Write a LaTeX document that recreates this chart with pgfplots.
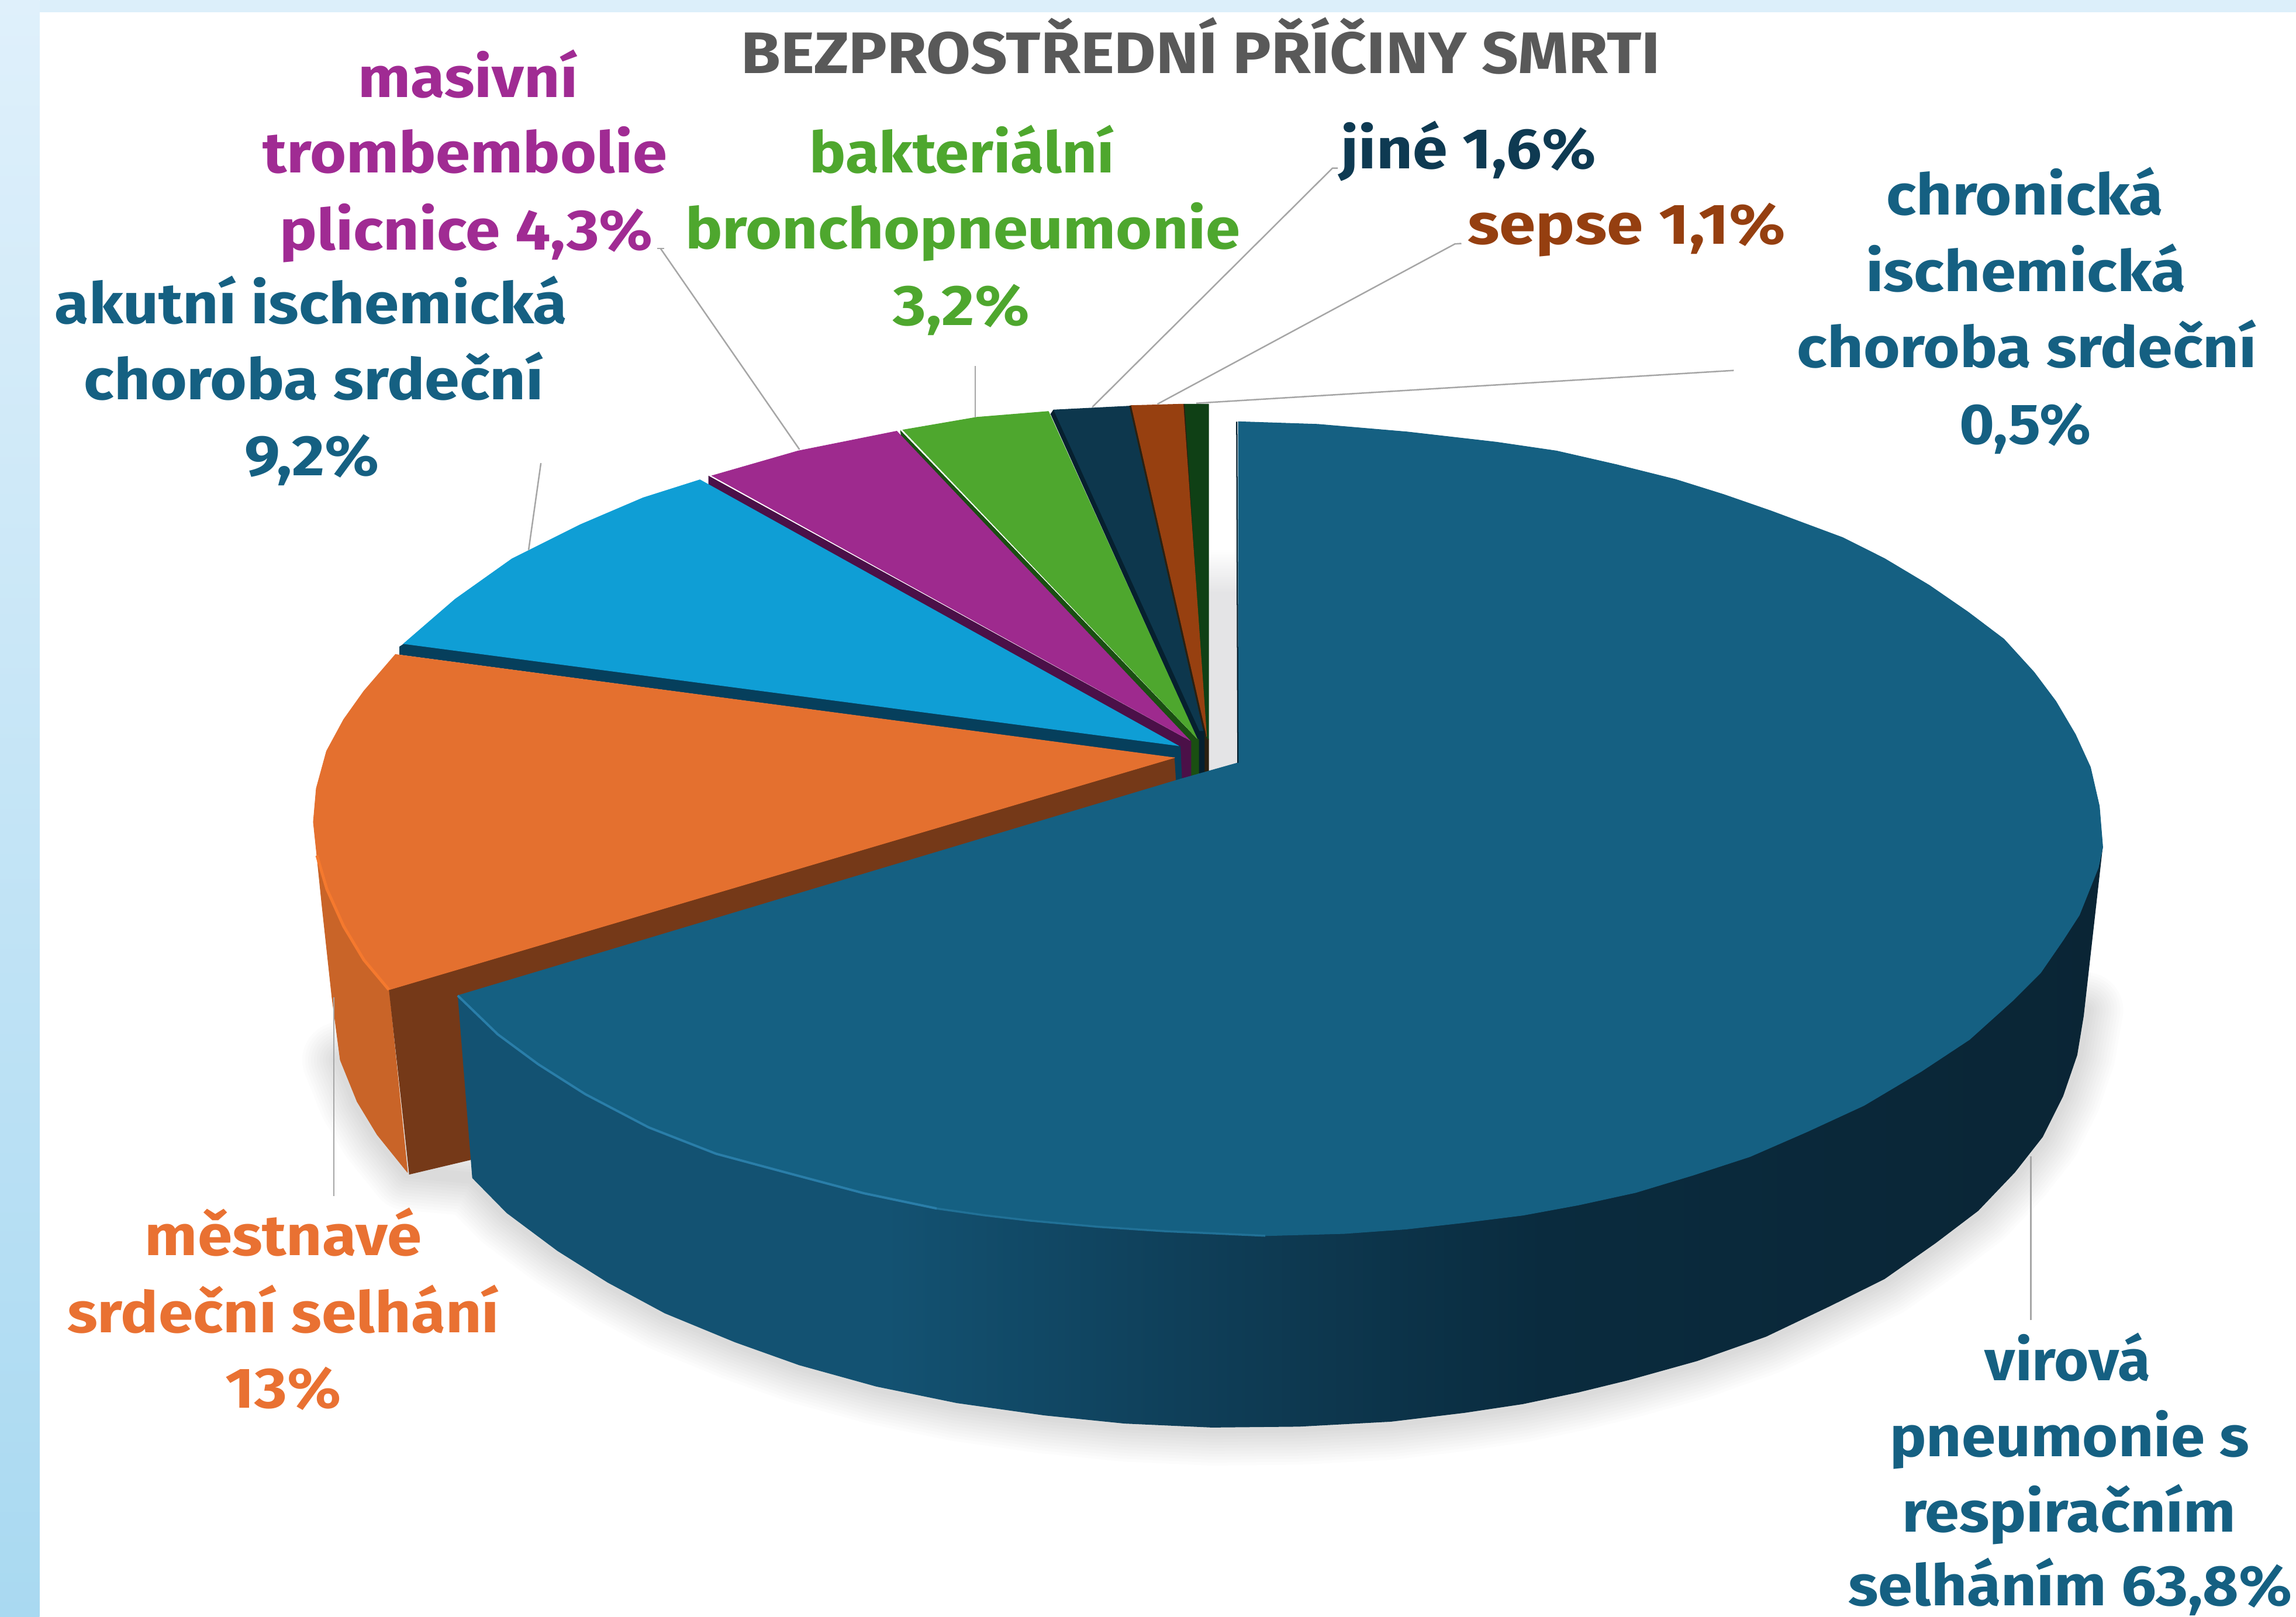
\documentclass[border=0pt]{standalone}
\usepackage{fontspec}
\setmainfont{Fira Sans}
\usepackage{pgfplots}
\pgfplotsset{compat=1.18}
\definecolor{cblue}{HTML}{156082}
\definecolor{csidea}{HTML}{135272}
\definecolor{csideb}{HTML}{0F3F59}
\definecolor{csidec}{HTML}{0A2B3E}
\definecolor{csided}{HTML}{0A2535}
\definecolor{crimb}{HTML}{2A7EA9}
\definecolor{corange}{HTML}{E4702F}
\definecolor{corside}{HTML}{C96428}
\definecolor{corin}{HTML}{753918}
\definecolor{corrim}{HTML}{F5792E}
\definecolor{ccyan}{HTML}{0F9ED5}
\definecolor{cnavyb}{HTML}{063F5C}
\definecolor{cpurple}{HTML}{9E2A8E}
\definecolor{cpurd}{HTML}{4B1048}
\definecolor{cgreen}{HTML}{4EA72E}
\definecolor{cgrd}{HTML}{1A4F12}
\definecolor{cnavy}{HTML}{0D374D}
\definecolor{cblk}{HTML}{06202F}
\definecolor{crust}{HTML}{974010}
\definecolor{cdg}{HTML}{0F4015}
\definecolor{cdbr}{HTML}{2B2010}
\definecolor{cgap}{HTML}{E4E4E6}
\definecolor{cleader}{HTML}{A6A6A6}
\definecolor{cbga}{HTML}{DFF0FB}
\definecolor{cbgb}{HTML}{A9D9F1}
\definecolor{tblue}{HTML}{156082}
\definecolor{torange}{HTML}{E97132}
\definecolor{tpurple}{HTML}{A02B93}
\definecolor{tgreen}{HTML}{4EA72E}
\definecolor{tnavy}{HTML}{0E3A52}
\definecolor{trust}{HTML}{953F10}
\definecolor{ttitle}{HTML}{595959}
\pgfdeclarehorizontalshading{sideblue}{100bp}{color(0bp)=(csidea); color(38bp)=(csidea); color(47bp)=(csideb); color(58bp)=(csidec); color(75bp)=(csided); color(100bp)=(csided)}
\newcommand{\lab}[6][19.5]{\node[anchor=base west,inner sep=0pt,outer sep=0pt,text=#5] at (axis cs:#2,#3) {\resizebox{\dimexpr#4pt/2\relax}{\height}{\fontsize{#1pt}{22pt}\selectfont\bfseries #6}};}
\newcommand{\shadowline}[1]{\addplot[draw=black,draw opacity=0.012,line width=#1,line join=round,line cap=round] coordinates {(1424,690)(1418.6,720.6)(1409,748.6)(1395,776.6)(1376,800.8)(1351,827)(1322,849)(1287,873.6)(1250,892)(1206,913)(1159,929.6)(1112,942.7)(1078,951)(1040,959)(1000,965)(950,971)(887,974.4)(827.6,975)(768,972.3)(713,966.7)(653.4,958.3)(598.4,947)(545.7,932.4)(502,916.8)(454,897)(415,876)(380.7,854.4)(346,828.5)(322.5,804.6)(278.3,800.7)(257.6,775)(243.9,752.4)(232.4,724)};}
\pgfplotsset{poly/.style={draw=#1,fill=#1,line width=0.2pt,line join=round},
  lead/.style={draw=cleader,line width=0.5pt,line join=round}}
\begin{document}
\begin{tikzpicture}
\useasboundingbox (0,0) rectangle (784pt,552.2pt);
\begin{axis}[scale only axis,width=784pt,height=552.2pt,xmin=0,xmax=1568,ymin=0,ymax=1104.4,y dir=reverse,
  axis lines=none,clip=false,no markers]
% backdrop
\addplot[draw=none,top color=cbga,bottom color=cbgb] coordinates {(0,0)(27,0)(27,1104.4)(0,1104.4)};
\addplot[poly=cbga!95!cbgb] coordinates {(27,0)(1568,0)(1568,8)(27,8)};
% soft shadow under the pie
\shadowline{26pt}
\shadowline{24pt}
\shadowline{22pt}
\shadowline{20pt}
\shadowline{18pt}
\shadowline{16pt}
\shadowline{14pt}
\shadowline{12pt}
\shadowline{10pt}
\shadowline{8pt}
\shadowline{6pt}
\shadowline{4pt}
% gap between the small slices and the large one
\addplot[draw=none,top color=white,bottom color=cgap] coordinates {(825.4,375)(844.6,375)(844.6,405)(825.4,405)};
\addplot[poly=cgap] coordinates {(825.4,405)(844.6,405)(844.6,521)(825.4,527)};
% orange: outer side, inner face, top
\addplot[poly=corside] coordinates {(216.4,584.3)(219.8,617.4)(226.7,681)(232.4,724)(243.9,752.4)(257.6,775)(278.3,800.7)(265.6,676)(248.5,655.6)(234.7,632.7)(223.2,607.2)};
\addplot[poly=corin] coordinates {(265.6,676)(802.3,517.4)(803.3,533.4)(330,790)(279.4,802)};
% smallest slices
\addplot[poly=cdbr] coordinates {(821,497)(825.4,505)(825.4,527)(822,528)};
\addplot[poly=cdbr] coordinates {(808,276)(809,276)(824.5,505)(823,505)};
\addplot[poly=cdg] coordinates {(809,276)(825.4,276)(825.4,505)(823.5,503)};
\addplot[poly=cdbr] coordinates {(771,277.4)(772.5,277)(824,503)(821,499)};
\addplot[poly=crust] coordinates {(772.5,277)(808,276)(824,503)};
\addplot[poly=cblk] coordinates {(717.5,283)(719.5,280)(821,497)(822.5,500)(822.5,528)(818.6,528)(818.6,506)(817.5,504.5)};
\addplot[poly=cnavy] coordinates {(719.5,280)(771,277.4)(821.5,499)(819,499)};
\addplot[poly=cgrd] coordinates {(615,294)(615.5,298)(813.3,508)(813.3,530.4)(818.6,528.4)(818.6,505)(817.5,504.5)};
\addplot[poly=cgreen] coordinates {(616.4,293.7)(667,285)(716,281)(817.5,504.5)};
\addplot[poly=cpurd] coordinates {(484,325)(484,331)(806,510)(807,532)(813.3,530.4)(813.3,506)(812.6,505.8)};
\addplot[poly=cpurple] coordinates {(486,325)(545,308)(612.4,294.5)(812.6,505.8)};
\addplot[poly=cnavyb] coordinates {(273,441.5)(273,447)(802.3,517.4)(803.3,533.4)(807,532)(806,509.8)(804.9,509.5)(275.5,439.8)};
\addplot[poly=ccyan] coordinates {(275.5,439.8)(310.9,409.2)(349.6,381.7)(396.4,358.3)(439.2,340)(478,327.7)(804.9,509.5)};
\addplot[poly=corange] coordinates {(270.2,446.8)(248.5,472)(234.7,491.4)(223,513)(216,538.5)(214,561.4)(216.4,584.3)(223.2,607.2)(234.7,632.7)(248.5,655.6)(265.6,676)(802.3,517.4)};
\addplot[draw=corrim,line width=1pt,line join=round] coordinates {(216.4,584.3)(223.2,607.2)(234.7,632.7)(248.5,655.6)(265.6,676)};
% large slice: side, top, rim
\addplot[draw=none,shade,shading=sideblue] coordinates {(312.6,680)(340,706.5)(367.6,726.9)(399.7,747.3)(443,770)(489,788)(543,802.5)(639.7,825.4)(703.8,833.7)(795.5,840.9)(864,844)(918,842.5)(1000,835)(1078,823)(1156,802.7)(1234,773)(1312,731.8)(1375,683)(1409,642)(1428,605)(1436,578.7)(1423,694)(1418.6,720.6)(1409,748.6)(1395,776.6)(1376,800.8)(1351,827)(1322,849)(1287,873.6)(1250,892)(1206,913)(1159,929.6)(1112,942.7)(1078,951)(1040,959)(1000,965)(950,971)(887,974.4)(827.6,975)(768,972.3)(713,966.7)(653.4,958.3)(598.4,947)(545.7,932.4)(502,916.8)(454,897)(415,876)(380.7,854.4)(346,828.5)(322.5,804.6)};
\addplot[poly=cblue] coordinates {(845.5,288)(900,289.8)(961,295)(1022,302)(1063,308)(1103.7,317.3)(1144.4,327.5)(1177,337.7)(1209.6,349)(1258.5,367.2)(1287,381.5)(1317.6,399.8)(1344,418)(1368.5,436.5)(1389,459)(1404,479)(1417.4,501.7)(1427.6,524)(1433.7,550.6)(1436,578.7)(1433,592.5)(1428,605)(1420,625)(1409,642)(1393.5,664.5)(1375,683)(1345,710)(1312,731.8)(1273,755)(1234,773)(1195,790)(1156,802.7)(1117,814.5)(1078,823)(1040,830)(1000,835)(960,839.5)(918,842.5)(864,844)(795.5,840.9)(750,837.9)(703.8,833.7)(672,830)(639.7,825.4)(590,815)(543,802.5)(489,788)(443,770)(399.7,747.3)(367.6,726.9)(340,706.5)(312.6,680)(806.6,532)(845.5,521)};
\addplot[draw=cblk,line width=0.45pt] coordinates {(844.6,288)(845.4,521)};
\addplot[draw=crimb,line width=0.8pt,line join=round] coordinates {(312.6,680)(340,706.5)(367.6,726.9)(399.7,747.3)(443,770)(489,788)(543,802.5)(590,815)(639.7,825.4)};
\addplot[draw=crimb!55!cblue,line width=0.7pt,line join=round] coordinates {(639.7,825.4)(672,830)(703.8,833.7)(750,837.9)(795.5,840.9)(864,844)};
% leader lines
\addplot[lead] coordinates {(453.4,169.6)(448.9,169.6)};
\addplot[lead] coordinates {(451,169.6)(546,307)};
\addplot[lead] coordinates {(369.4,316.3)(361,375.6)};
\addplot[lead] coordinates {(666,250)(666,285)};
\addplot[lead] coordinates {(913.6,114.8)(910,114.8)(746,278)};
\addplot[lead] coordinates {(998,166.3)(993.6,166.6)(790.4,276)};
\addplot[lead] coordinates {(1184,253)(817,275.4)};
\addplot[lead] coordinates {(228,681)(228,817)};
\addplot[lead] coordinates {(1387,789.6)(1387,901.6)};
% labels
\lab[20]{506}{50}{628}{ttitle}{BEZPROSTŘEDNÍ PŘÍČINY SMRTI}
\lab{244.5}{66.5}{150}{tpurple}{masivní}
\lab{179.5}{118}{276}{tpurple}{trombembolie}
\lab{191}{170.7}{255}{tpurple}{plicnice 4,3\%}
\lab{37.4}{221}{350}{tblue}{akutní ischemická}
\lab{57.3}{273}{314}{tblue}{choroba srdeční}
\lab{167}{325}{92}{tblue}{9,2\%}
\lab{553}{118}{208}{tgreen}{bakteriální}
\lab{468}{170}{379}{tgreen}{bronchopneumonie}
\lab{610}{222}{93}{tgreen}{3,2\%}
\lab{915.8}{115.3}{174}{tnavy}{jiné 1,6\%}
\lab{1002.4}{166.6}{217}{trust}{sepse 1,1\%}
\lab{1288.3}{146.8}{189}{tblue}{chronická}
\lab{1274.2}{198.9}{218.6}{tblue}{ischemická}
\lab{1227.2}{251}{314}{tblue}{choroba srdeční}
\lab{1338}{303.2}{90}{tblue}{0,5\%}
\lab{99}{857.6}{189}{torange}{městnavé}
\lab{46}{910}{295}{torange}{srdeční selhání}
\lab{154}{961.5}{79}{torange}{13\%}
\lab{1355.5}{942.7}{113}{tblue}{virová}
\lab{1290.5}{995}{245.5}{tblue}{pneumonie s}
\lab{1299}{1046.5}{228}{tblue}{respiračním}
\lab{1262.4}{1096.5}{303}{tblue}{selháním 63,8\%}
\end{axis}
\end{tikzpicture}
\end{document}
